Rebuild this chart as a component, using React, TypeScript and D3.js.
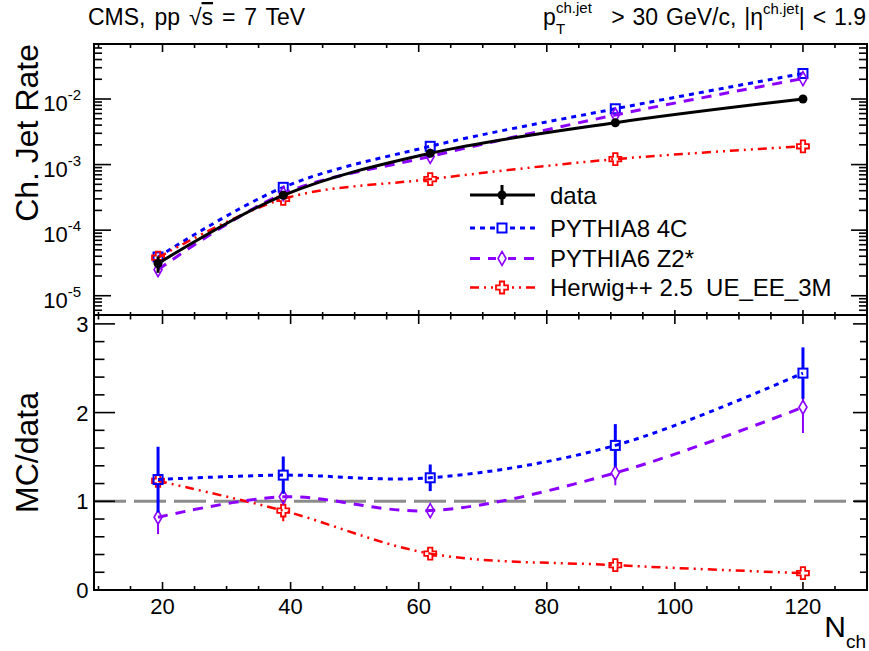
import React from "react";
import * as d3 from "d3";

// ---------------- data ----------------
const NCH = [19.3, 38.85, 61.8, 90.7, 120];
const DATA_RATE = [3.1e-5, 3.4e-4, 1.49e-3, 4.35e-3, 1.0e-2];
const DATA_RATE_RELERR = [0.28, 0.1, 0.05, 0.04, 0.04];
const P8_RATE = [3.9e-5, 4.5e-4, 1.9e-3, 7.1e-3, 2.45e-2];
const P6_RATE = [2.5e-5, 3.6e-4, 1.33e-3, 5.7e-3, 2.05e-2];
const HW_RATE = [3.8e-5, 3.0e-4, 6.0e-4, 1.21e-3, 1.9e-3];

const P8_RATIO = [1.245, 1.295, 1.265, 1.63, 2.445];
const P8_RATIO_ERR = [0.37, 0.21, 0.15, 0.24, 0.29];
const P6_RATIO = [0.82, 1.05, 0.895, 1.32, 2.06];
const P6_RATIO_ERR = [0.19, 0.08, 0.05, 0.14, 0.29];
const HW_RATIO = [1.23, 0.895, 0.41, 0.28, 0.19];
const HW_RATIO_ERR = [0.3, 0.12, 0.03, 0.03, 0.02];

const X_TICKS = [20, 40, 60, 80, 100, 120];
const TOP_DECADES = [-5, -4, -3, -2];
const BOT_TICKS = [0, 1, 2, 3];
const LEGEND_LABELS = ["data", "PYTHIA8 4C", "PYTHIA6 Z2*", "Herwig++ 2.5  UE_EE_3M"];

// ---------------- layout ----------------
const W = 869, H = 651;
const L = 94, R = 867;
const TOP_T = 44, MID = 315, BOT_B = 590;
const FONT = "'Liberation Sans', Arial, Helvetica, sans-serif";

const BLUE = "#0000ff";
const VIOLET = "#8c00ff";
const RED = "#ff0000";

const x = d3.scaleLinear().domain([9.3, 130]).range([L, R]);
const yTop = d3.scaleLog().domain([Math.pow(10, -5.294), Math.pow(10, -1.161)]).range([MID, TOP_T]);
const yBot = d3.scaleLinear().domain([0, 3.1]).range([BOT_B, MID]);

const curve = d3.curveCatmullRom.alpha(0.5);
const lineTop = d3.line<number[]>().x((d) => x(d[0])).y((d) => yTop(d[1])).curve(curve);
const lineBot = d3.line<number[]>().x((d) => x(d[0])).y((d) => yBot(d[1])).curve(curve);

const zip = (a: number[], b: number[]) => a.map((v, i) => [v, b[i]]);

type Style = { color: string; width: number; dash: string; marker: string };
const S_DATA: Style = { color: "#000", width: 3, dash: "", marker: "circle" };
const S_P8: Style = { color: BLUE, width: 3, dash: "5,5", marker: "square" };
const S_P6: Style = { color: VIOLET, width: 3, dash: "10,8", marker: "diamond" };
const S_HW: Style = { color: RED, width: 2.5, dash: "9,5,2,5,2,5", marker: "cross" };

function Marker({ cx, cy, s }: { cx: number; cy: number; s: Style }) {
  if (s.marker === "circle") return <circle cx={cx} cy={cy} r={4.5} fill={s.color} />;
  if (s.marker === "square")
    return <rect x={cx - 4.5} y={cy - 4.5} width={9} height={9} fill="none" stroke={s.color} strokeWidth={2} />;
  if (s.marker === "diamond")
    return (
      <path
        d={`M${cx},${cy - 7}L${cx + 4},${cy}L${cx},${cy + 7}L${cx - 4},${cy}Z`}
        fill="none"
        stroke={s.color}
        strokeWidth={1.6}
      />
    );
  const a = 2.2, b = 6;
  const pts = [
    [-a, -b], [a, -b], [a, -a], [b, -a], [b, a], [a, a], [a, b], [-a, b], [-a, a], [-b, a], [-b, -a], [-a, -a],
  ];
  return (
    <path
      d={"M" + pts.map((p) => `${cx + p[0]},${cy + p[1]}`).join("L") + "Z"}
      fill="none"
      stroke={s.color}
      strokeWidth={1.8}
    />
  );
}

function ErrBar({ cx, y1, y2, cy, color, w, gap }: any) {
  const segs: any[] = [];
  if (y1 < cy - gap) segs.push([y1, cy - gap]);
  if (y2 > cy + gap) segs.push([cy + gap, y2]);
  return (
    <g>
      {segs.map((s, i) => (
        <line key={i} x1={cx} x2={cx} y1={s[0]} y2={s[1]} stroke={color} strokeWidth={w} />
      ))}
    </g>
  );
}

function Ticks() {
  const els: any[] = [];
  const tk = (x1: number, y1: number, x2: number, y2: number, key: string) =>
    els.push(<line key={key} x1={x1} y1={y1} x2={x2} y2={y2} stroke="#000" strokeWidth={1.6} />);
  for (let v = 10; v <= 130; v += 5) {
    const px = x(v);
    const major = v % 20 === 0;
    tk(px, TOP_T, px, TOP_T + (major ? 8 : 4), "tt" + v);
    tk(px, MID, px, MID - (major ? 5 : 3), "tb" + v);
    tk(px, MID, px, MID + (major ? 9 : 4.5), "bt" + v);
    tk(px, BOT_B, px, BOT_B - (major ? 8 : 4), "bb" + v);
  }
  const [lo, hi] = yTop.domain();
  for (let e = -6; e <= -1; e++) {
    for (let m = 1; m <= 9; m++) {
      const v = m * Math.pow(10, e);
      if (v < lo || v > hi) continue;
      const py = yTop(v);
      const major = m === 1;
      tk(L, py, L + (major ? 17 : 8), py, `yl${e}_${m}`);
      tk(R, py, R - (major ? 16 : 8), py, `yr${e}_${m}`);
    }
  }
  for (let i = 0; i <= 15; i++) {
    const v = i * 0.2;
    const py = yBot(v);
    const major = i % 5 === 0;
    tk(L, py, L + (major ? 21 : 10.5), py, "bl" + i);
    tk(R, py, R - (major ? 14 : 7), py, "br" + i);
  }
  return <g>{els}</g>;
}

function RatioSeries({ vals, errs, s, barW }: { vals: number[]; errs: number[]; s: Style; barW: number }) {
  return (
    <g>
      <path
        d={lineBot(zip(NCH, vals)) || ""}
        fill="none"
        stroke={s.color}
        strokeWidth={s.width}
        strokeDasharray={s.dash}
      />
      {NCH.map((n, i) => (
        <ErrBar
          key={"e" + i}
          cx={x(n)}
          cy={yBot(vals[i])}
          y1={yBot(vals[i] + errs[i])}
          y2={yBot(Math.max(0, vals[i] - errs[i]))}
          color={s.color}
          w={barW}
          gap={5}
        />
      ))}
      {NCH.map((n, i) => (
        <Marker key={"m" + i} cx={x(n)} cy={yBot(vals[i])} s={s} />
      ))}
    </g>
  );
}

function TopSeries({ vals, s }: { vals: number[]; s: Style }) {
  return (
    <g>
      <path
        d={lineTop(zip(NCH, vals)) || ""}
        fill="none"
        stroke={s.color}
        strokeWidth={s.width}
        strokeDasharray={s.dash}
      />
      {NCH.map((n, i) => (
        <Marker key={"m" + i} cx={x(n)} cy={yTop(vals[i])} s={s} />
      ))}
    </g>
  );
}

export default function App() {
  const legendStyles = [S_DATA, S_P8, S_P6, S_HW];
  const legY = [195, 228, 258.5, 287.5];
  return (
    <svg
      width={W}
      height={H}
      viewBox={`0 0 ${W} ${H}`}
      style={{ position: "absolute", left: 0, top: 0, background: "#fff" }}
      fontFamily={FONT}
    >
      <rect x={0} y={0} width={W} height={H} fill="#fff" />

      {/* headers */}
      <text x={88} y={25} fontSize={23} fill="#000" wordSpacing={2.5}>
        <tspan>CMS, pp </tspan>
        <tspan>√</tspan>
        <tspan style={{ textDecoration: "overline" }}>s</tspan>
        <tspan> = 7 TeV</tspan>
      </text>
      <text x={543} y={25} fontSize={23} fill="#000">p</text>
      <text x={556} y={13} fontSize={15} fill="#000">ch.jet</text>
      <text x={556} y={34} fontSize={15} fill="#000">T</text>
      <text x={866} y={25} fontSize={23} fill="#000" textAnchor="end" wordSpacing={1.5}>
        <tspan>{"> 30 GeV/c, |η"}</tspan>
        <tspan fontSize={15} dy={-11}>ch.jet</tspan>
        <tspan dy={11}>{"| < 1.9"}</tspan>
      </text>

      {/* y titles */}
      <text
        transform={`translate(38,${TOP_T}) rotate(-90)`}
        textAnchor="end"
        fontSize={32}
        fill="#000"
      >
        Ch. Jet Rate
      </text>
      <text
        transform={`translate(38,${(MID + BOT_B) / 2}) rotate(-90)`}
        textAnchor="middle"
        fontSize={32}
        fill="#000"
      >
        MC/data
      </text>

      {/* top pad tick labels */}
      {TOP_DECADES.map((e) => (
        <text key={e} x={81} y={yTop(Math.pow(10, e)) + 12} textAnchor="end" fontSize={22} fill="#000">
          <tspan>10</tspan>
          <tspan fontSize={15} dy={-11}>{String(e)}</tspan>
        </text>
      ))}
      {BOT_TICKS.map((v) => (
        <text key={v} x={88.5} y={yBot(v) + 8} textAnchor="end" fontSize={22} fill="#000">
          {v}
        </text>
      ))}
      {X_TICKS.map((v) => (
        <text key={v} x={x(v)} y={614} textAnchor="middle" fontSize={22} fill="#000">
          {v}
        </text>
      ))}
      <text x={866} y={637} textAnchor="end" fill="#000">
        <tspan fontSize={30}>N</tspan>
        <tspan fontSize={19} dy={11}>ch</tspan>
      </text>

      {/* ratio reference line */}
      <line x1={L} x2={R} y1={yBot(1)} y2={yBot(1)} stroke="#8c8c8c" strokeWidth={3} strokeDasharray="32,8" />

      {/* top pad curves */}
      <TopSeries vals={P8_RATE} s={S_P8} />
      <TopSeries vals={P6_RATE} s={S_P6} />
      <TopSeries vals={HW_RATE} s={S_HW} />
      <g>
        <path d={lineTop(zip(NCH, DATA_RATE)) || ""} fill="none" stroke="#000" strokeWidth={3} />
        {NCH.map((n, i) => (
          <line
            key={"de" + i}
            x1={x(n)}
            x2={x(n)}
            y1={yTop(DATA_RATE[i] * (1 + DATA_RATE_RELERR[i]))}
            y2={yTop(DATA_RATE[i] * (1 - DATA_RATE_RELERR[i]))}
            stroke="#000"
            strokeWidth={3}
          />
        ))}
        {NCH.map((n, i) => (
          <Marker key={"dm" + i} cx={x(n)} cy={yTop(DATA_RATE[i])} s={S_DATA} />
        ))}
      </g>

      {/* ratio pad */}
      <RatioSeries vals={HW_RATIO} errs={HW_RATIO_ERR} s={S_HW} barW={2} />
      <RatioSeries vals={P6_RATIO} errs={P6_RATIO_ERR} s={S_P6} barW={2} />
      <RatioSeries vals={P8_RATIO} errs={P8_RATIO_ERR} s={S_P8} barW={3} />

      {/* legend */}
      {LEGEND_LABELS.map((lab, i) => {
        const s = legendStyles[i];
        const y = legY[i];
        return (
          <g key={lab}>
            <line x1={470} x2={535} y1={y} y2={y} stroke={s.color} strokeWidth={s.width} strokeDasharray={s.dash} />
            {i === 0 && <line x1={502} x2={502} y1={y - 10} y2={y + 10} stroke="#000" strokeWidth={3} />}
            {i > 0 && <rect x={496} y={y - 8} width={12} height={16} fill="#fff" />}
            <Marker cx={502} cy={y} s={s} />
            <text x={550} y={y + 8.5} fontSize={24} fill="#000" style={{ whiteSpace: "pre" }}>
              {lab}
            </text>
          </g>
        );
      })}

      {/* frames & ticks */}
      <Ticks />
      <rect x={L} y={TOP_T} width={R - L} height={MID - TOP_T} fill="none" stroke="#000" strokeWidth={2} />
      <rect x={L} y={MID} width={R - L} height={BOT_B - MID} fill="none" stroke="#000" strokeWidth={2} />
    </svg>
  );
}
